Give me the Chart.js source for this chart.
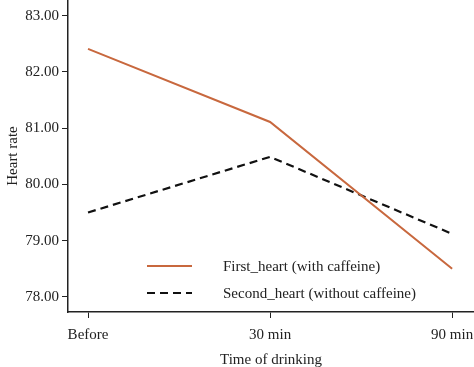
<!DOCTYPE html>
<html>
<head>
<meta charset="utf-8">
<script src="https://cdn.jsdelivr.net/npm/chart.js@4.4.1/dist/chart.umd.min.js"></script>
<style>
  html, body { margin: 0; padding: 0; background: #fff; overflow: hidden; }
  #wrap { width: 474px; height: 367px; }
</style>
</head>
<body>
<div id="wrap"><canvas id="heartChart" width="474" height="367"></canvas></div>
<script>
  // Data
  const timeLabels = ['Before', '30 min', '90 min'];
  const firstHeart = [82.41, 81.11, 78.50];
  const secondHeart = [79.50, 80.49, 79.12];
  const seriesNames = ['First_heart (with caffeine)', 'Second_heart (without caffeine)'];

  const font = { family: '"Liberation Serif", "Times New Roman", serif', size: 15 };
  const axisColor = '#222';

  // Legend drawn inside the plot area, bottom middle
  const innerLegend = {
    id: 'innerLegend',
    afterDraw(chart) {
      const ctx = chart.ctx;
      const x0 = 147, x1 = 192, tx = 223;
      const rows = [266, 293];
      ctx.save();
      ctx.font = font.size + 'px ' + font.family;
      ctx.textBaseline = 'middle';
      chart.data.datasets.forEach((ds, i) => {
        const y = rows[i];
        ctx.strokeStyle = ds.borderColor;
        ctx.lineWidth = ds.borderWidth;
        ctx.setLineDash(ds.borderDash || []);
        ctx.beginPath();
        ctx.moveTo(x0, y);
        ctx.lineTo(x1, y);
        ctx.stroke();
        ctx.setLineDash([]);
        ctx.fillStyle = '#222';
        ctx.fillText(ds.label, tx, y + 1);
      });
      ctx.restore();
    }
  };

  new Chart(document.getElementById('heartChart').getContext('2d'), {
    type: 'line',
    data: {
      datasets: [{
        label: seriesNames[0],
        data: firstHeart.map((v, i) => ({ x: i, y: v })),
        borderColor: '#c8683e',
        borderWidth: 2,
        pointRadius: 0,
        tension: 0
      }, {
        label: seriesNames[1],
        data: secondHeart.map((v, i) => ({ x: i, y: v })),
        borderColor: '#111',
        borderWidth: 2.2,
        borderDash: [8, 5],
        pointRadius: 0,
        tension: 0
      }]
    },
    options: {
      responsive: false,
      animation: false,
      layout: { padding: 0 },
      plugins: {
        legend: { display: false },
        tooltip: { enabled: false }
      },
      scales: {
        x: {
          type: 'linear',
          min: -0.11,
          max: 2.12,
          afterBuildTicks(scale) {
            scale.ticks = timeLabels.map((_, i) => ({ value: i }));
          },
          afterFit(scale) {
            scale.height = 55;
            scale.paddingLeft = 0;
            scale.paddingRight = 0;
          },
          ticks: {
            callback: (v) => timeLabels[v],
            color: '#222',
            font: font,
            padding: 8,
            maxRotation: 0
          },
          grid: { drawOnChartArea: false, drawTicks: true, tickLength: 6, color: axisColor },
          border: { display: true, color: axisColor, width: 1.5 },
          title: { display: true, text: 'Time of drinking', color: '#222', font: font, padding: { top: 4, bottom: -2 } }
        },
        y: {
          min: 77.73,
          max: 83.28,
          afterFit(scale) {
            scale.width = 68;
            scale.paddingTop = 0;
            scale.paddingBottom = 0;
          },
          ticks: {
            stepSize: 1,
            includeBounds: false,
            callback: (v) => v.toFixed(2),
            color: '#222',
            font: font,
            padding: 3
          },
          grid: { drawOnChartArea: false, drawTicks: true, tickLength: 6, color: axisColor },
          border: { display: true, color: axisColor, width: 1.5 },
          title: { display: true, text: 'Heart rate', color: '#222', font: font, padding: { bottom: 4 } }
        }
      }
    },
    plugins: [innerLegend]
  });
</script>
</body>
</html>
